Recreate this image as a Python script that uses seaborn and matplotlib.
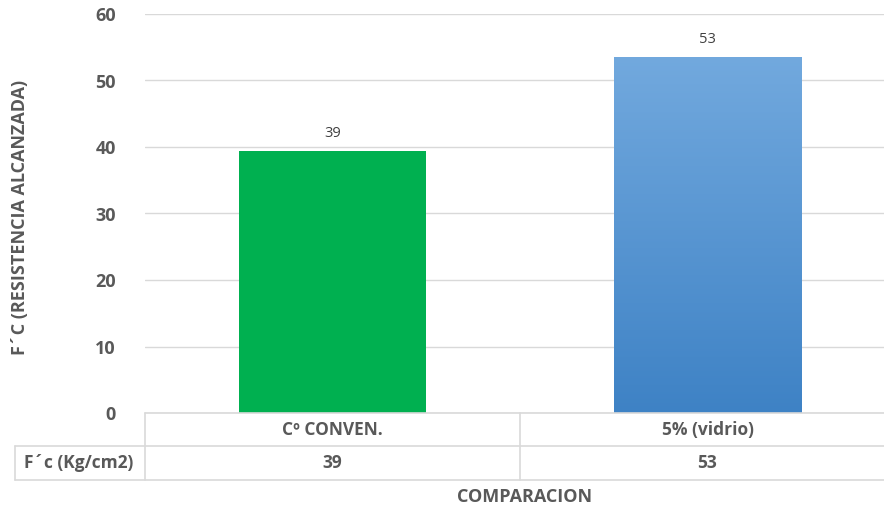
import numpy as np
import matplotlib
matplotlib.use("Agg")
import matplotlib.pyplot as plt
from matplotlib.transforms import blended_transform_factory
from matplotlib.colors import LinearSegmentedColormap
import seaborn as sns

categories = ["Cº CONVEN.", "5% (vidrio)"]
values = [39.4, 53.6]
value_labels = ["39", "53"]
row_header = "F´c (Kg/cm2)"
y_ticks = [0, 10, 20, 30, 40, 50, 60]

sns.set_theme(style="white")
plt.rcParams["font.family"] = ["Open Sans", "DejaVu Sans"]

TXT = "#595959"
GRID = "#D9D9D9"
W, H = 884, 511

fig = plt.figure(figsize=(W / 100, H / 100), dpi=100)
ax = fig.add_axes([145 / W, 1 - 413 / H, 750 / W, 399 / H])

sns.barplot(x=categories, y=values, hue=categories, palette=["#00B050", "#4A8ED2"],
            legend=False, width=0.5, ax=ax, saturation=1, linewidth=0)

# gradient on the blue bar
blue = ax.patches[1]
bx, by = blue.get_x(), blue.get_y()
bw, bh = blue.get_width(), blue.get_height()
blue.set_facecolor("none")
cmap = LinearSegmentedColormap.from_list("g", ["#3E82C5", "#72A9DE"])
grad = np.linspace(0, 1, 256).reshape(-1, 1)
im = ax.imshow(grad, cmap=cmap, origin="lower", aspect="auto",
               extent=[bx, bx + bw, by, by + bh], zorder=2)
im.set_clip_path(blue)

ax.set_xlim(-0.5, 1.5)
ax.set_ylim(0, 60)
ax.set_yticks(y_ticks)
ax.set_yticklabels([str(t) for t in y_ticks], fontsize=13, fontweight="bold", color=TXT)
ax.tick_params(axis="y", length=0, pad=21)
ax.set_xticks([])
ax.set_xlabel("")
ax.yaxis.grid(True, color=GRID, linewidth=1)
ax.set_axisbelow(True)
for s in ax.spines.values():
    s.set_visible(False)

for i, (v, lab) in enumerate(zip(values, value_labels)):
    ax.text(i, v + 1.5, lab, ha="center", va="bottom", fontsize=10.5, color="#404040")

ax.set_ylabel("F´C (RESISTENCIA ALCANZADA)", fontsize=13, fontweight="bold", color=TXT)
ax.yaxis.set_label_coords(-(145 - 29) / 750, 0.49)

# data table below the axes
tr = blended_transform_factory(ax.transData, fig.transFigure)
fy = lambda p: 1 - p / H
fx = lambda p: p / W
lkw = dict(color=GRID, linewidth=1.2, clip_on=False)
fig.add_artist(plt.Line2D([fx(145), 1], [fy(413), fy(413)], transform=fig.transFigure, **lkw))
fig.add_artist(plt.Line2D([fx(15), 1], [fy(446), fy(446)], transform=fig.transFigure, **lkw))
fig.add_artist(plt.Line2D([fx(15), 1], [fy(480), fy(480)], transform=fig.transFigure, **lkw))
fig.add_artist(plt.Line2D([fx(15), fx(15)], [fy(446), fy(480)], transform=fig.transFigure, **lkw))
for xd in [-0.5, 0.5]:
    ax.add_line(plt.Line2D([xd, xd], [fy(413), fy(480)], transform=tr, **lkw))

for i, (c, lab) in enumerate(zip(categories, value_labels)):
    ax.text(i, fy(430), c, transform=tr, ha="center", va="center",
            fontsize=12.5, fontweight="bold", color=TXT)
    ax.text(i, fy(463), lab, transform=tr, ha="center", va="center",
            fontsize=12.5, fontweight="bold", color=TXT)
fig.text(fx(79), fy(463), row_header, ha="center", va="center",
         fontsize=12.5, fontweight="bold", color=TXT)
fig.text(fx(525), fy(497), "COMPARACION", ha="center", va="center",
         fontsize=13, fontweight="bold", color=TXT)

fig.savefig("out.png", dpi=100)
